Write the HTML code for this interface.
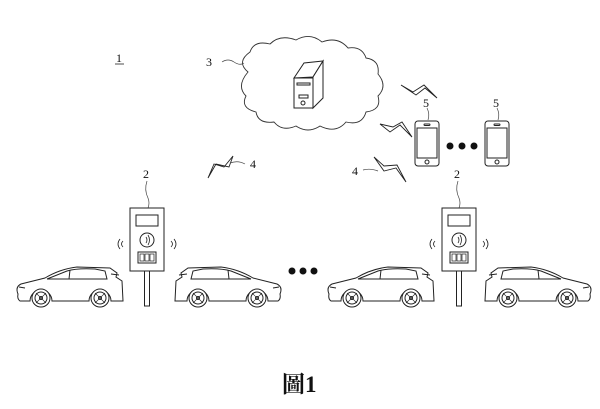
<!DOCTYPE html>
<html><head><meta charset="utf-8"><style>
html,body{margin:0;padding:0;background:#fff;}
svg{display:block;}
text{font-family:"Liberation Serif","Noto Serif CJK SC",serif;fill:#111;}
</style></head><body>
<svg width="600" height="409" viewBox="0 0 600 409" xmlns="http://www.w3.org/2000/svg">
<defs>
<g id="car" fill="#fff" stroke="#222" stroke-width="1">
<path d="M3,28 Q0,21 6,18 L30,12 Q45,3 62,1 L95,2 L102,7 L101,11 L107,15 L108,35 L96,35 A11 11 0 0 0 74,35 L37,35 A11 11 0 0 0 15,35 L5,35 Q2,33 3,28 Z"/>
<path d="M32,13 L52,5 Q62,2 80,3 L90,5 L92,13 Z" fill="none"/>
<line x1="55" y1="4" x2="54" y2="13"/>
<path d="M4,21 L10,22 M96,8 L104,9" fill="none"/>
<circle cx="26" cy="32" r="9"/><circle cx="26" cy="32" r="6"/><circle cx="26" cy="32" r="1.5"/>
<circle cx="85" cy="32" r="9"/><circle cx="85" cy="32" r="6"/><circle cx="85" cy="32" r="1.5"/>
<path d="M21,27 L31,37 M31,27 L21,37 M80,27 L90,37 M90,27 L80,37" stroke-width="0.6"/>
</g>
<g id="charger" fill="#fff" stroke="#222" stroke-width="1">
<rect x="-2.5" y="62" width="5" height="36"/>
<rect x="-17" y="0" width="34" height="63"/>
<rect x="-11" y="7" width="22" height="11"/>
<circle cx="0" cy="32" r="7"/>
<path d="M-1,29 q2,3 0,6 M1,27 q3,5 0,10" fill="none" stroke-width="0.8"/>
<rect x="-9" y="44" width="18" height="11"/>
<rect x="-7" y="46" width="4" height="7" stroke-width="0.7"/><rect x="-2" y="46" width="4" height="7" stroke-width="0.7"/><rect x="3" y="46" width="4" height="7" stroke-width="0.7"/>
<path d="M-24,33 q-3,3 0,6 M-27,31 q-4,5 0,10" fill="none" stroke-width="0.8"/>
<path d="M24,33 q3,3 0,6 M27,31 q4,5 0,10" fill="none" stroke-width="0.8"/>
</g>
<g id="phone" fill="#fff" stroke="#222" stroke-width="1">
<rect x="0" y="0" width="24" height="45" rx="3"/>
<rect x="2" y="7" width="20" height="30"/>
<rect x="9" y="3" width="6" height="1.5" rx="0.7"/>
<circle cx="12" cy="41" r="2"/>
</g>
</defs>

<text x="116" y="62" font-size="12">1</text>
<line x1="115" y1="64" x2="124" y2="64" stroke="#222" stroke-width="0.8"/>

<path d="M248,72 Q236,62 250,52 Q254,40 270,44 Q280,34 296,40 Q310,32 322,42 Q338,36 348,48 Q362,46 366,58 Q380,60 378,74 Q388,86 378,96 Q382,110 366,112 Q362,126 346,122 Q336,134 320,126 Q308,134 296,126 Q282,132 274,122 Q258,124 256,112 Q240,108 246,96 Q236,86 248,72 Z" fill="#fff" stroke="#333" stroke-width="0.9"/>
<path d="M222,62 Q228,58 234,62 Q240,66 244,63" fill="none" stroke="#444" stroke-width="0.7"/>
<text x="206" y="66" font-size="12">3</text>
<g fill="#fff" stroke="#222" stroke-width="1">
<path d="M294,78 L304,63 L323,61 L313,77 Z"/>
<path d="M313,77 L323,61 L323,98 L313,108 Z"/>
<rect x="294" y="78" width="19" height="30"/>
<rect x="297" y="83" width="13" height="2"/>
<rect x="299" y="95" width="9" height="3"/>
<circle cx="303" cy="103" r="2"/>
</g>

<g fill="none" stroke="#222" stroke-width="0.9">
<path d="M208,178 L214,164 L224,167 L233,156 L229,167 L216,164 Z"/>
<path d="M374,157 L384,171 L396,168 L406,182 L397,165 L384,166 Z"/>
<path d="M380,124 L393,127 L402,122 L412,137 L400,125 L390,132 Z"/>
<path d="M401,85 L413,92 L424,85 L437,98 L425,88 L416,95 Z"/>
</g>
<g fill="none" stroke="#444" stroke-width="0.7">
<path d="M230,163 Q238,160 245,164"/>
<path d="M363,170 Q370,168 378,171"/>
<path d="M427,108 Q430,114 428,120"/>
<path d="M497,108 Q500,114 498,120"/>
<path d="M147,181 Q144,190 148,198 Q150,203 148,208"/>
<path d="M458,181 Q455,190 459,198 Q461,203 459,208"/>
</g>
<text x="250" y="168" font-size="12">4</text>
<text x="352" y="175" font-size="12">4</text>
<text x="423" y="107" font-size="12">5</text>
<text x="493" y="107" font-size="12">5</text>
<text x="143" y="178" font-size="12">2</text>
<text x="454" y="178" font-size="12">2</text>

<use href="#phone" x="415" y="121"/>
<use href="#phone" x="485" y="121"/>
<g fill="#111"><circle cx="450" cy="146" r="3.5"/><circle cx="462" cy="146" r="3.5"/><circle cx="474" cy="146" r="3.5"/>
<circle cx="292" cy="271" r="3.5"/><circle cx="303" cy="271" r="3.5"/><circle cx="314" cy="271" r="3.5"/></g>

<use href="#charger" x="147" y="208"/>
<use href="#charger" x="459" y="208"/>

<use href="#car" x="15" y="266"/>
<use href="#car" transform="translate(283,266) scale(-1,1)"/>
<use href="#car" x="326" y="266"/>
<use href="#car" transform="translate(593,266) scale(-1,1)"/>

<text x="282" y="392" font-size="23" font-weight="bold">圖1</text>
</svg>
</body></html>
